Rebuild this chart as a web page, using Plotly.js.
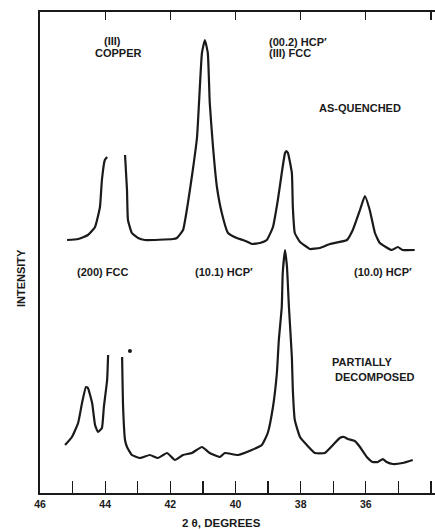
<!DOCTYPE html>
<html>
<head>
<meta charset="utf-8">
<script src="https://cdn.plot.ly/plotly-3.0.1.min.js"></script>
<style>
  html, body { margin: 0; padding: 0; background: #ffffff; }
  #chart { width: 435px; height: 530px; }
</style>
</head>
<body>
<div id="chart"></div>
<script>
// 2θ (degrees) and intensity (arbitrary units).
// null = the pen trace is broken (copper (111) peak left out).
const asQuenchedTheta = [45.17, 44.83, 44.53, 44.31, 44.16, 44.10, 44.01, 43.94, null,
  43.39, 43.33, 43.30, 43.18, 42.99, 42.78, 41.92, 41.80, 41.61, 41.46, 41.31, 41.18, 41.12,
  41.03, 40.94, 40.85, 40.79, 40.69, 40.57, 40.42, 40.23, 39.96, 39.77, 39.62, 39.50, 39.25,
  39.04, 38.85, 38.70, 38.58, 38.48, 38.44, 38.39, 38.27, 38.24, 38.18, 38.02, 37.81, 37.72,
  37.41, 37.10, 36.58, 36.40, 36.18, 36.03, 35.88, 35.72, 35.57, 35.20, 35.02, 34.87, 34.50];
const asQuenchedI = [253, 254, 258, 266, 286, 313, 333, 336, null,
  338, 303, 273, 260, 255, 253, 254, 255, 263, 290, 323, 356, 390,
  440, 453, 440, 390, 346, 306, 280, 260, 255, 253, 251, 249, 250,
  253, 266, 293, 320, 340, 342, 340, 320, 286, 260, 251, 246, 244,
  245, 249, 253, 263, 283, 297, 283, 260, 250, 243, 246, 243, 243];

const decomposedTheta = [45.23, 45.02, 44.83, 44.71, 44.59, 44.53, 44.40, 44.31, 44.22,
  44.10, 44.04, 43.94, 43.91, null, 43.48, 43.45, 43.39, 43.33, 43.18, 42.93, 42.63, 42.38,
  42.10, 41.86, 41.61, 41.34, 41.03, 40.79, 40.48, 40.33, 39.93, 39.50, 39.19, 39.01, 38.85,
  38.73, 38.67, 38.58, 38.55, 38.48, 38.42, 38.36, 38.27, 38.24, 38.18, 38.02, 37.81, 37.56,
  37.26, 37.01, 36.80, 36.67, 36.55, 36.34, 36.18, 35.97, 35.79, 35.63, 35.48, 35.36, 35.17,
  34.87, 34.56];
const decomposedI = [48, 56, 70, 90, 106, 105, 90, 68, 61,
  65, 86, 113, 138, null, 136, 86, 53, 46, 38, 35, 38, 35,
  40, 33, 38, 40, 46, 40, 36, 40, 38, 43, 48, 60, 86,
  120, 153, 186, 220, 243, 226, 186, 136, 103, 73, 56, 48, 40,
  40, 48, 55, 56, 54, 52, 46, 36, 31, 31, 34, 31, 29,
  30, 33];

const dotTheta = [43.24];
const dotI = [142];

const majorTicks = [46, 44, 42, 40, 38, 36, 34];
const allTicks = [46, 45, 44, 43, 42, 41, 40, 39, 38, 37, 36, 35, 34];
const allTickText = ["46", "", "44", "", "42", "", "40", "", "38", "", "36", "", "34"];

const peakLabels = [
  {text: "(III)", x: 43.76, y: 452, anchor: "center"},
  {text: "COPPER", x: 43.58, y: 440, anchor: "center"},
  {text: "(00.2) HCP′", x: 39.04, y: 451, anchor: "left"},
  {text: "(III) FCC", x: 39.04, y: 440, anchor: "left"},
  {text: "AS-QUENCHED", x: 36.18, y: 385, anchor: "center"},
  {text: "(200) FCC", x: 44.07, y: 221, anchor: "center"},
  {text: "(10.1) HCP′", x: 40.36, y: 221, anchor: "center"},
  {text: "(10.0) HCP′", x: 35.48, y: 221, anchor: "center"},
  {text: "PARTIALLY", x: 37.10, y: 131, anchor: "left"},
  {text: "DECOMPOSED", x: 37.01, y: 116, anchor: "left"}
];

const ink = "#1a1a1a";
const fam = "Liberation Sans, Arial, sans-serif";
const font = {family: fam, size: 11, color: ink, weight: "bold"};

const traces = [
  {x: asQuenchedTheta, y: asQuenchedI, type: "scatter", mode: "lines", name: "As-quenched",
   connectgaps: false, line: {color: ink, width: 2.2, shape: "spline", smoothing: 0.4}},
  {x: decomposedTheta, y: decomposedI, type: "scatter", mode: "lines", name: "Partially decomposed",
   connectgaps: false, line: {color: ink, width: 2.2, shape: "spline", smoothing: 0.4}},
  {x: dotTheta, y: dotI, type: "scatter", mode: "markers", name: "dot",
   marker: {color: ink, size: 4}},
  {x: majorTicks, y: majorTicks.map(() => null), xaxis: "x2", type: "scatter", mode: "lines",
   name: "top", hoverinfo: "skip"}
];

const annotations = peakLabels.map(p => ({
  text: p.text, x: p.x, y: p.y, xref: "x", yref: "y",
  xanchor: p.anchor, yanchor: "middle", showarrow: false, font: font
}));
annotations.push({text: "INTENSITY", textangle: -90, xref: "paper", yref: "y",
  x: -0.048, y: 215, xanchor: "center", yanchor: "middle", showarrow: false,
  font: {family: fam, size: 11, color: ink, weight: "bold"}});
annotations.push({text: "2 θ, DEGREES", xref: "x", yref: "paper", x: 40.44, y: -0.063,
  xanchor: "center", yanchor: "middle", showarrow: false,
  font: {family: fam, size: 11.5, color: ink, weight: "bold"}});

const layout = {
  width: 435, height: 530,
  margin: {l: 40, r: 0, t: 12, b: 37},
  paper_bgcolor: "#ffffff", plot_bgcolor: "#ffffff",
  showlegend: false,
  font: font,
  xaxis: {
    range: [46, 33.877], showgrid: false, zeroline: false,
    showline: true, linecolor: ink, linewidth: 2,
    tickmode: "array", tickvals: allTicks, ticktext: allTickText,
    ticks: "inside", ticklen: 12, tickwidth: 1.3, tickcolor: ink,
    tickfont: {family: fam, size: 10.5, color: ink, weight: "bold"},
    fixedrange: true
  },
  xaxis2: {
    overlaying: "x", side: "top", range: [46, 33.877],
    showgrid: false, zeroline: false, showline: true, linecolor: ink, linewidth: 2,
    tickmode: "array", tickvals: majorTicks, showticklabels: false,
    ticks: "inside", ticklen: 8, tickwidth: 1.3, tickcolor: ink
  },
  yaxis: {
    range: [0, 481], showgrid: false, zeroline: false,
    showline: true, linecolor: ink, linewidth: 2,
    ticks: "", showticklabels: false, fixedrange: true
  },
  annotations: annotations
};

Plotly.newPlot("chart", traces, layout, {staticPlot: true, displayModeBar: false});
</script>
</body>
</html>
